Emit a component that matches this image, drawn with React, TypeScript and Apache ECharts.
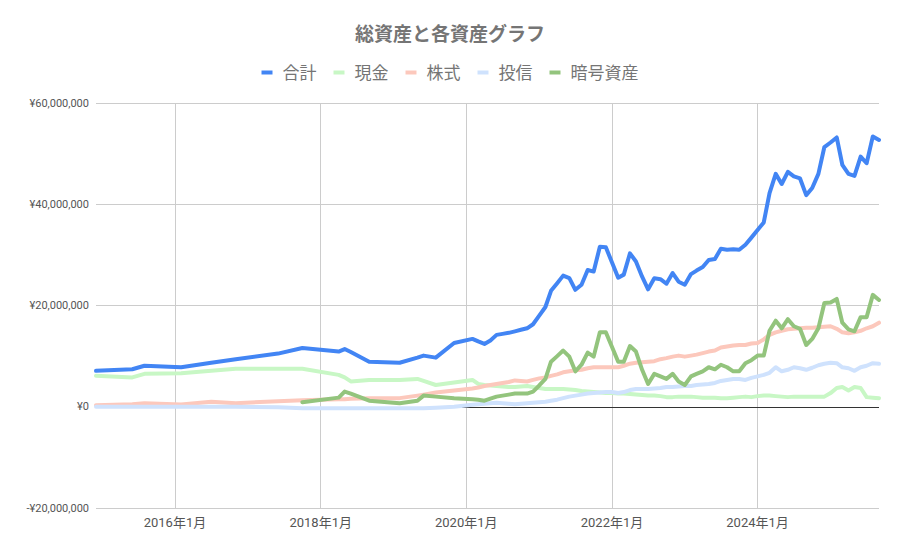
import React, { useEffect, useRef } from "react";
import * as echarts from "echarts";

const TITLE = "総資産と各資産グラフ";
const seriesNames = ["合計", "現金", "株式", "投信", "暗号資産"];
const seriesColors = ["#4285F4", "#c8f7c5", "#fcc8bc", "#cfe2fd", "#93c47d"];

// observation months
const months = [
  "2014-12", "2015-06", "2015-08", "2016-02", "2016-07", "2016-11", "2017-06", "2017-10",
  "2018-04", "2018-05", "2018-06", "2018-09", "2019-02", "2019-05", "2019-06", "2019-08", "2019-11",
  "2020-02", "2020-03", "2020-04", "2020-05", "2020-06", "2020-07", "2020-08", "2020-09", "2020-10", "2020-11", "2020-12",
  "2021-01", "2021-02", "2021-03", "2021-04", "2021-05", "2021-06", "2021-07", "2021-08", "2021-09", "2021-10", "2021-11", "2021-12",
  "2022-01", "2022-02", "2022-03", "2022-04", "2022-05", "2022-06", "2022-07", "2022-08", "2022-09", "2022-10", "2022-11", "2022-12",
  "2023-01", "2023-02", "2023-03", "2023-04", "2023-05", "2023-06", "2023-07", "2023-08", "2023-09", "2023-10", "2023-11", "2023-12",
  "2024-01", "2024-02", "2024-03", "2024-04", "2024-05", "2024-06", "2024-07", "2024-08", "2024-09", "2024-10", "2024-11", "2024-12",
  "2025-01", "2025-02", "2025-03", "2025-04", "2025-05", "2025-06", "2025-07", "2025-08", "2025-09",
];

// values in millions of yen
const total = [
  7.1, 7.4, 8.1, 7.8, 8.7, 9.4, 10.5, 11.6, 10.9, 11.4, 10.8, 8.9, 8.7, 9.7, 10.1, 9.7, 12.6,
  13.4, 12.9, 12.4, 13.1, 14.2, 14.4, 14.6, 14.9, 15.2, 15.5, 16.3,
  18.0, 19.7, 22.9, 24.4, 25.9, 25.4, 23.1, 24.1, 27.0, 26.7, 31.6, 31.5,
  28.5, 25.5, 26.1, 30.3, 28.7, 25.7, 23.2, 25.4, 25.2, 24.3, 26.4, 24.7,
  24.1, 26.2, 26.9, 27.6, 29.0, 29.2, 31.2, 31.0, 31.1, 31.0, 32.0, 33.4,
  34.9, 36.4, 42.2, 46.0, 44.0, 46.4, 45.5, 45.1, 41.8, 43.2, 46.0, 51.3,
  52.2, 53.2, 47.8, 46.0, 45.6, 49.4, 48.1, 53.4, 52.7,
];
const cash = [
  6.1, 5.8, 6.5, 6.6, 7.1, 7.5, 7.5, 7.5, 6.3, 5.8, 5.0, 5.3, 5.3, 5.5, 5.1, 4.3, 4.8,
  5.3, 4.5, 4.3, 4.2, 4.1, 4.0, 3.9, 3.9, 4.0, 4.1, 3.9,
  3.7, 3.5, 3.5, 3.5, 3.5, 3.4, 3.3, 3.1, 3.0, 2.9, 2.8, 2.7,
  2.7, 2.6, 2.6, 2.5, 2.4, 2.3, 2.2, 2.2, 2.1, 1.9, 1.9, 2.0,
  2.0, 2.0, 1.9, 1.8, 1.8, 1.8, 1.7, 1.7, 1.8, 1.9, 2.0, 1.9,
  2.1, 2.2, 2.2, 2.1, 2.0, 1.9, 2.0, 2.0, 2.0, 2.0, 2.0, 2.0,
  2.7, 3.7, 3.9, 3.2, 3.9, 3.7, 1.9, 1.8, 1.7,
];
const stocks = [
  0.3, 0.5, 0.7, 0.45, 1.0, 0.7, 1.1, 1.3, 1.5, 1.5, 1.6, 1.7, 1.7, 2.2, 2.4, 2.8, 3.2,
  3.6, 3.8, 4.1, 4.3, 4.5, 4.7, 4.9, 5.2, 5.1, 5.0, 5.3,
  5.6, 5.8, 6.1, 6.4, 6.8, 7.0, 7.2, 7.3, 7.6, 7.8, 7.8, 7.8,
  7.8, 7.8, 8.1, 8.5, 8.7, 8.8, 8.9, 9.0, 9.4, 9.6, 9.9, 10.1,
  9.9, 10.1, 10.3, 10.6, 10.9, 11.1, 11.7, 11.9, 12.1, 12.2, 12.2, 12.5,
  12.6, 13.3, 14.2, 14.7, 15.0, 15.3, 15.4, 15.5, 15.6, 15.6, 15.7, 15.8,
  15.9, 15.4, 14.7, 14.5, 14.7, 15.0, 15.5, 15.9, 16.6,
];
const funds = [
  0.0, 0.0, 0.0, 0.0, 0.0, 0.0, -0.1, -0.3, -0.3, -0.3, -0.3, -0.3, -0.3, -0.3, -0.3, -0.2, 0.0,
  0.4, 0.5, 0.6, 0.7, 0.8, 0.7, 0.6, 0.5, 0.6, 0.7, 0.8,
  0.9, 1.0, 1.2, 1.4, 1.7, 2.0, 2.2, 2.4, 2.6, 2.7, 2.8, 2.9,
  2.9, 2.7, 2.9, 3.3, 3.5, 3.5, 3.5, 3.6, 3.7, 3.9, 3.9, 4.0,
  4.1, 4.1, 4.3, 4.4, 4.5, 4.7, 5.1, 5.3, 5.5, 5.5, 5.3, 5.7,
  6.0, 6.3, 6.7, 7.8, 7.0, 7.3, 7.8, 7.6, 7.3, 7.7, 8.2, 8.5,
  8.7, 8.6, 7.8, 7.6, 7.1, 7.8, 8.1, 8.6, 8.5,
];
const crypto = [
  null, null, null, null, null, null, null, 0.9, 1.8, 3.0, 2.6, 1.2, 0.7, 1.2, 2.2, 2.0, 1.7,
  1.5, 1.4, 1.2, 1.6, 2.0, 2.2, 2.4, 2.6, 2.6, 2.6, 3.0,
  4.2, 5.5, 8.9, 10.0, 11.1, 9.9, 7.0, 8.3, 10.7, 9.9, 14.7, 14.7,
  11.8, 8.9, 8.9, 12.0, 10.9, 7.3, 4.5, 6.5, 6.0, 5.5, 6.5, 5.0,
  4.3, 6.0, 6.5, 7.0, 7.8, 7.4, 8.3, 7.8, 7.0, 7.0, 8.6, 9.2,
  10.1, 10.1, 15.0, 17.0, 15.5, 17.3, 15.9, 15.4, 12.2, 13.4, 15.5, 20.5,
  20.6, 21.3, 16.6, 15.3, 14.9, 17.7, 17.7, 22.1, 21.1,
];

const xTickMonths = ["2016-01", "2018-01", "2020-01", "2022-01", "2024-01"];
const yMin = -20000000;
const yMax = 60000000;
const yStep = 20000000;
const baselineValue = 0;

const toTime = (ym: string) => {
  const [y, m] = ym.split("-").map(Number);
  return new Date(y, m - 1, 1).getTime();
};

const FONT = "Roboto, 'Noto Sans CJK JP', 'Noto Sans', sans-serif";

export default function App() {
  const ref = useRef<HTMLDivElement>(null);
  useEffect(() => {
    if (!ref.current) return;
    const chart = echarts.init(ref.current, undefined, { renderer: "svg" });
    const valueSets = [total, cash, stocks, funds, crypto];
    const times = months.map(toTime);
    const ticks = xTickMonths.map(toTime);
    const series: any[] = seriesNames.map((name, i) => ({
      name,
      type: "line",
      z: 3,
      showSymbol: false,
      symbol: "none",
      silent: true,
      color: seriesColors[i],
      lineStyle: { width: 4, color: seriesColors[i], cap: "round", join: "round" },
      emphasis: { disabled: true },
      data: valueSets[i]
        .map((v, j) => (v === null ? null : [times[j], Math.round((v as number) * 1e6)]))
        .filter((d) => d !== null),
    }));
    series[0].markLine = {
      silent: true,
      z: 1,
      symbol: ["none", "none"],
      label: { show: false },
      lineStyle: { color: "#333333", width: 1, type: "solid" },
      emphasis: { disabled: true },
      data: [{ yAxis: baselineValue }],
    };
    chart.setOption({
      animation: false,
      textStyle: { fontFamily: FONT },
      title: {
        text: TITLE,
        left: "center",
        top: 20,
        textStyle: { fontSize: 19, fontWeight: "bold", color: "#757575", fontFamily: FONT },
      },
      legend: {
        top: 59,
        left: "center",
        icon: "rect",
        itemWidth: 11,
        itemHeight: 4,
        itemGap: 17,
        textStyle: { fontSize: 17, color: "#757575", fontFamily: FONT, padding: [0, 0, 0, 5] },
        data: seriesNames,
      },
      grid: { left: 96, right: 21, top: 103, bottom: 32, containLabel: false, outerBoundsMode: "none" },
      xAxis: {
        type: "value",
        min: times[0],
        max: times[times.length - 1],
        axisLine: { show: false, onZero: false },
        axisTick: { show: false, customValues: ticks },
        axisLabel: {
          customValues: ticks,
          margin: 8,
          fontSize: 13,
          color: "#555555",
          fontFamily: FONT,
          formatter: (v: number) => {
            const d = new Date(v);
            return `${d.getFullYear()}年${d.getMonth() + 1}月`;
          },
        },
        splitLine: { show: true, lineStyle: { color: "#cccccc", width: 1 } },
      },
      yAxis: {
        type: "value",
        min: yMin,
        max: yMax,
        interval: yStep,
        axisLine: { show: false },
        axisTick: { show: false },
        axisLabel: {
          margin: 7,
          fontSize: 11,
          color: "#555555",
          fontFamily: FONT,
          formatter: (v: number) => (v < 0 ? "-" : "") + "¥" + Math.abs(v).toLocaleString("en-US"),
        },
        splitLine: { show: true, lineStyle: { color: "#cccccc", width: 1 } },
      },
      series,
    });
    return () => chart.dispose();
  }, []);
  return (
    <div
      ref={ref}
      style={{ position: "fixed", left: 0, top: 0, width: 900, height: 540, background: "#ffffff" }}
    />
  );
}
